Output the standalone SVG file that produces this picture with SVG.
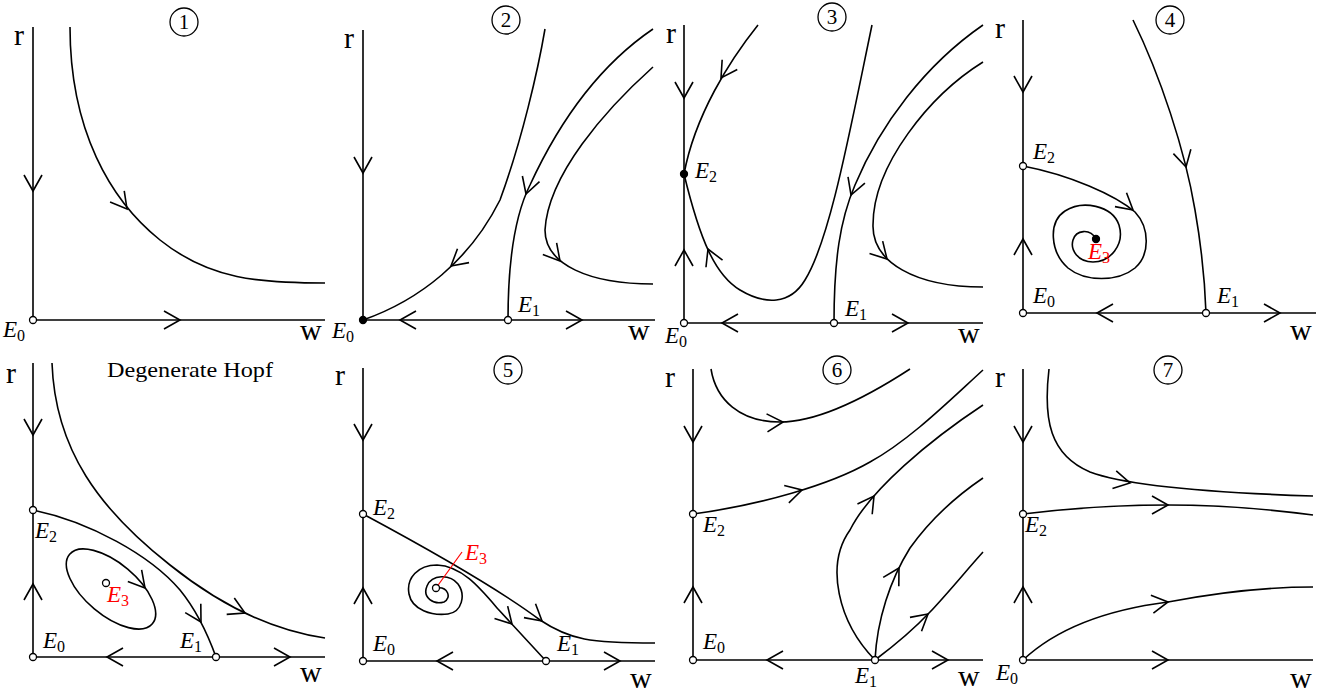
<svg xmlns="http://www.w3.org/2000/svg" xmlns:xlink="http://www.w3.org/1999/xlink" width="1333" height="693" viewBox="0 0 1333 693">
<style>
.ln{fill:none;stroke:#000;stroke-width:1.6}
.ah{fill:none;stroke:#000;stroke-width:1.6}
.pt{fill:#fff;stroke:#000;stroke-width:1.3}
.ptf{fill:#000;stroke:#000;stroke-width:1.3}
.lab{font-family:"Liberation Serif","DejaVu Serif",serif;font-style:italic;font-size:23px;fill:#000}
.sub{font-size:16px;font-style:normal}
.ax{font-family:"Liberation Serif","DejaVu Serif",serif;font-size:30px;fill:#000}
.num{font-family:"Liberation Serif","DejaVu Serif",serif;font-size:21px;text-anchor:middle;fill:#000}
.ttl{font-family:"Liberation Serif","DejaVu Serif",serif;font-size:21px;fill:#000}
.circ{fill:none;stroke:#000;stroke-width:1.3}
.red{fill:#ff0000}
.redln{fill:none;stroke:#ff0000;stroke-width:1.2}
</style>
<defs>
<path id="ah" class="ah" d="M-16,-9 L0,0 L-16,9"/>
</defs>
<rect width="1333" height="693" fill="#fff"/>

<!-- Panel 1 -->
<g id="panel1">
<g id="p1-connectors">
<path class="ln" d="M33,27 V320 H325"/>
<path class="ln" d="M70,27 C70,130 110,200 160,240 C210,280 260,283 325,283"/>
<use xlink:href="#ah" transform="translate(33,191) rotate(90)"/>
<use xlink:href="#ah" transform="translate(180,320) rotate(0)"/>
<use xlink:href="#ah" transform="translate(127,209) rotate(52)"/>
</g>
<g id="p1-E0"><circle class="pt" cx="33" cy="320" r="3.5"/><text class="lab" x="3" y="337">E<tspan class="sub" dy="4">0</tspan></text></g>
<text class="ax" x="14" y="45">r</text>
<text class="ax" x="300" y="340">w</text>
<g id="p1-title"><circle class="circ" cx="184" cy="22" r="14"/><text class="num" x="184" y="29">1</text></g>
</g>

<!-- Panel 2 -->
<g id="panel2">
<g id="p2-connectors">
<path class="ln" d="M363,30 V320 H655"/>
<path class="ln" d="M363,320 C420,300 470,260 500,200 C522,140 538,70 545,29"/>
<path class="ln" d="M508,320 C508,260 515,215 530,185 C560,120 600,65 653,29"/>
<path class="ln" d="M653,67 C605,110 548,175 545,230 C545,265 590,284 653,284"/>
<use xlink:href="#ah" transform="translate(363,173) rotate(90)"/>
<use xlink:href="#ah" transform="translate(400,320) rotate(180)"/>
<use xlink:href="#ah" transform="translate(582,320) rotate(0)"/>
<use xlink:href="#ah" transform="translate(451,266) rotate(140)"/>
<use xlink:href="#ah" transform="translate(526,194) rotate(108)"/>
<use xlink:href="#ah" transform="translate(560,261) rotate(50)"/>
</g>
<g id="p2-E0"><circle class="ptf" cx="363" cy="320" r="3.5"/><text class="lab" x="332" y="338">E<tspan class="sub" dy="4">0</tspan></text></g>
<g id="p2-E1"><circle class="pt" cx="508" cy="320" r="3.5"/><text class="lab" x="518" y="312">E<tspan class="sub" dy="4">1</tspan></text></g>
<text class="ax" x="344" y="48">r</text>
<text class="ax" x="628" y="340">w</text>
<g id="p2-title"><circle class="circ" cx="506" cy="20" r="14"/><text class="num" x="506" y="27">2</text></g>
</g>

<!-- Panel 3 -->
<g id="panel3">
<g id="p3-connectors">
<path class="ln" d="M684,25 V323 H983"/>
<path class="ln" d="M758,25 C730,60 695,115 684,174"/>
<path class="ln" d="M684,174 C700,240 715,275 740,290 C765,305 790,305 805,280 C830,240 850,130 872,25"/>
<path class="ln" d="M834,323 C834,260 840,220 855,185 C880,125 925,65 983,25"/>
<path class="ln" d="M983,62 C930,95 873,165 873,225 C872,262 915,287 983,287"/>
<use xlink:href="#ah" transform="translate(684,98) rotate(90)"/>
<use xlink:href="#ah" transform="translate(684,250) rotate(-90)"/>
<use xlink:href="#ah" transform="translate(722,323) rotate(180)"/>
<use xlink:href="#ah" transform="translate(908,323) rotate(0)"/>
<use xlink:href="#ah" transform="translate(721,78) rotate(123)"/>
<use xlink:href="#ah" transform="translate(708,249) rotate(-113)"/>
<use xlink:href="#ah" transform="translate(851,195) rotate(110)"/>
<use xlink:href="#ah" transform="translate(887,259) rotate(47)"/>
</g>
<g id="p3-E0"><circle class="pt" cx="684" cy="323" r="3.5"/><text class="lab" x="665" y="343">E<tspan class="sub" dy="4">0</tspan></text></g>
<g id="p3-E1"><circle class="pt" cx="834" cy="323" r="3.5"/><text class="lab" x="845" y="316">E<tspan class="sub" dy="4">1</tspan></text></g>
<g id="p3-E2"><circle class="ptf" cx="684" cy="174" r="3.5"/><text class="lab" x="695" y="178">E<tspan class="sub" dy="4">2</tspan></text></g>
<text class="ax" x="666" y="43">r</text>
<text class="ax" x="958" y="343">w</text>
<g id="p3-title"><circle class="circ" cx="832" cy="17" r="14"/><text class="num" x="832" y="24">3</text></g>
</g>

<!-- Panel 4 -->
<g id="panel4">
<g id="p4-connectors">
<path class="ln" d="M1023,20 V313 H1316"/>
<path class="ln" d="M1133,20 C1160,75 1185,150 1195,210 C1202,250 1205,285 1206,313"/>
<path class="ln" d="M1023,166 C1070,175 1115,195 1135,212 C1150,228 1150,255 1135,268 C1118,282 1085,282 1068,268 C1050,252 1048,222 1065,211 C1082,200 1112,205 1119,225 C1125,245 1110,262 1093,262 C1078,262 1070,250 1073,240 C1076,230 1090,228 1096,239"/>
<use xlink:href="#ah" transform="translate(1023,92) rotate(90)"/>
<use xlink:href="#ah" transform="translate(1023,239) rotate(-90)"/>
<use xlink:href="#ah" transform="translate(1097,313) rotate(180)"/>
<use xlink:href="#ah" transform="translate(1280,313) rotate(0)"/>
<use xlink:href="#ah" transform="translate(1186,167) rotate(76)"/>
<use xlink:href="#ah" transform="translate(1133,210) rotate(40)"/>
</g>
<g id="p4-E0"><circle class="pt" cx="1023" cy="313" r="3.5"/><text class="lab" x="1033" y="303">E<tspan class="sub" dy="4">0</tspan></text></g>
<g id="p4-E1"><circle class="pt" cx="1206" cy="313" r="3.5"/><text class="lab" x="1217" y="303">E<tspan class="sub" dy="4">1</tspan></text></g>
<g id="p4-E2"><circle class="pt" cx="1023" cy="166" r="3.5"/><text class="lab" x="1033" y="159">E<tspan class="sub" dy="4">2</tspan></text></g>
<g id="p4-E3"><circle class="ptf" cx="1096" cy="239" r="3.5"/><text class="lab red" x="1088" y="259">E<tspan class="sub" dy="4">3</tspan></text></g>
<text class="ax" x="995" y="38">r</text>
<text class="ax" x="1290" y="340">w</text>
<g id="p4-title"><circle class="circ" cx="1170" cy="20" r="14"/><text class="num" x="1170" y="27">4</text></g>
</g>

<!-- Panel 5: Degenerate Hopf -->
<g id="panel5">
<g id="p5-connectors">
<path class="ln" d="M33,363 V657 H325"/>
<path class="ln" d="M52,363 C55,450 100,510 170,565 C220,605 270,630 325,638"/>
<path class="ln" d="M33,510 C90,522 150,555 180,590 C198,612 208,635 216,657"/>
<ellipse class="ln" cx="111" cy="589" rx="54" ry="26" transform="rotate(40 111 589)"/>
<use xlink:href="#ah" transform="translate(33,435) rotate(90)"/>
<use xlink:href="#ah" transform="translate(33,584) rotate(-90)"/>
<use xlink:href="#ah" transform="translate(107,657) rotate(180)"/>
<use xlink:href="#ah" transform="translate(290,657) rotate(0)"/>
<use xlink:href="#ah" transform="translate(245,613) rotate(25)"/>
<use xlink:href="#ah" transform="translate(201,622) rotate(60)"/>
<use xlink:href="#ah" transform="translate(145,588) rotate(50)"/>
</g>
<g id="p5-E0"><circle class="pt" cx="33" cy="657" r="3.5"/><text class="lab" x="43" y="648">E<tspan class="sub" dy="4">0</tspan></text></g>
<g id="p5-E1"><circle class="pt" cx="216" cy="657" r="3.5"/><text class="lab" x="180" y="648">E<tspan class="sub" dy="4">1</tspan></text></g>
<g id="p5-E2"><circle class="pt" cx="33" cy="510" r="3.5"/><text class="lab" x="35" y="538">E<tspan class="sub" dy="4">2</tspan></text></g>
<g id="p5-E3"><circle class="pt" cx="106" cy="583" r="3.5"/><text class="lab red" x="107" y="602">E<tspan class="sub" dy="4">3</tspan></text></g>
<text class="ax" x="6" y="383">r</text>
<text class="ax" x="300" y="682">w</text>
<text class="ttl" x="107" y="377" textLength="166" lengthAdjust="spacingAndGlyphs">Degenerate Hopf</text>
</g>

<!-- Panel 6 (5) -->
<g id="panel6">
<g id="p6-connectors">
<path class="ln" d="M363,368 V661 H655"/>
<path class="ln" d="M363,514 C430,550 500,590 540,620 C570,640 590,643 655,643"/>
<path class="ln" d="M546,661 L498,609 C480,588 462,566 437,565 C418,565 406,578 409,594 C412,610 432,616 448,614 C462,612 466,595 458,584 C450,574 432,574 427,586 C422,598 434,605 444,602 C452,598 448,586 436,588"/>
<path class="redln" d="M436,588 L462,552"/>
<use xlink:href="#ah" transform="translate(363,440) rotate(90)"/>
<use xlink:href="#ah" transform="translate(363,588) rotate(-90)"/>
<use xlink:href="#ah" transform="translate(437,661) rotate(180)"/>
<use xlink:href="#ah" transform="translate(620,661) rotate(0)"/>
<use xlink:href="#ah" transform="translate(542,621) rotate(40)"/>
<use xlink:href="#ah" transform="translate(512,624) rotate(47)"/>
</g>
<g id="p6-E0"><circle class="pt" cx="363" cy="661" r="3.5"/><text class="lab" x="373" y="651">E<tspan class="sub" dy="4">0</tspan></text></g>
<g id="p6-E1"><circle class="pt" cx="546" cy="661" r="3.5"/><text class="lab" x="557" y="651">E<tspan class="sub" dy="4">1</tspan></text></g>
<g id="p6-E2"><circle class="pt" cx="363" cy="514" r="3.5"/><text class="lab" x="373" y="515">E<tspan class="sub" dy="4">2</tspan></text></g>
<g id="p6-E3"><circle class="pt" cx="436" cy="588" r="3.5"/><text class="lab red" x="465" y="560">E<tspan class="sub" dy="4">3</tspan></text></g>
<text class="ax" x="335" y="385">r</text>
<text class="ax" x="630" y="688">w</text>
<g id="p6-title"><circle class="circ" cx="508" cy="370" r="14"/><text class="num" x="508" y="377">5</text></g>
</g>

<!-- Panel 7 (6) -->
<g id="panel7">
<g id="p7-connectors">
<path class="ln" d="M693,369 V660 H983"/>
<path class="ln" d="M711,369 C716,400 740,422 780,422 C820,422 870,395 910,369"/>
<path class="ln" d="M693,514 C760,505 830,485 870,462 C910,440 950,400 983,370"/>
<path class="ln" d="M875,660 C838,622 825,565 850,530 C870,490 930,440 983,405"/>
<path class="ln" d="M875,660 C877,620 890,580 910,548 C930,520 955,497 983,478"/>
<path class="ln" d="M875,660 C895,645 915,628 930,612 C948,593 965,572 983,552"/>
<use xlink:href="#ah" transform="translate(693,442) rotate(90)"/>
<use xlink:href="#ah" transform="translate(693,587) rotate(-90)"/>
<use xlink:href="#ah" transform="translate(767,660) rotate(180)"/>
<use xlink:href="#ah" transform="translate(948,660) rotate(0)"/>
<use xlink:href="#ah" transform="translate(783,422) rotate(-3)"/>
<use xlink:href="#ah" transform="translate(802,490) rotate(-15)"/>
<use xlink:href="#ah" transform="translate(874,496) rotate(-55)"/>
<use xlink:href="#ah" transform="translate(899,568) rotate(-60)"/>
<use xlink:href="#ah" transform="translate(928,614) rotate(-40)"/>
</g>
<g id="p7-E0"><circle class="pt" cx="693" cy="660" r="3.5"/><text class="lab" x="703" y="649">E<tspan class="sub" dy="4">0</tspan></text></g>
<g id="p7-E1"><circle class="pt" cx="875" cy="660" r="3.5"/><text class="lab" x="855" y="683">E<tspan class="sub" dy="4">1</tspan></text></g>
<g id="p7-E2"><circle class="pt" cx="693" cy="514" r="3.5"/><text class="lab" x="703" y="532">E<tspan class="sub" dy="4">2</tspan></text></g>
<text class="ax" x="665" y="387">r</text>
<text class="ax" x="958" y="686">w</text>
<g id="p7-title"><circle class="circ" cx="837" cy="370" r="14"/><text class="num" x="837" y="377">6</text></g>
</g>

<!-- Panel 8 (7) -->
<g id="panel8">
<g id="p8-connectors">
<path class="ln" d="M1023,369 V660 H1313"/>
<path class="ln" d="M1049,369 C1043,420 1050,455 1090,472 C1130,487 1220,493 1313,496"/>
<path class="ln" d="M1023,514 C1080,507 1130,505 1168,505 C1210,505 1260,508 1313,515"/>
<path class="ln" d="M1023,660 C1055,630 1105,610 1168,602 C1220,592 1270,587 1313,587"/>
<use xlink:href="#ah" transform="translate(1023,442) rotate(90)"/>
<use xlink:href="#ah" transform="translate(1023,587) rotate(-90)"/>
<use xlink:href="#ah" transform="translate(1168,660) rotate(0)"/>
<use xlink:href="#ah" transform="translate(1130,483) rotate(12)"/>
<use xlink:href="#ah" transform="translate(1168,505) rotate(0)"/>
<use xlink:href="#ah" transform="translate(1168,602) rotate(-8)"/>
</g>
<g id="p8-E0"><circle class="pt" cx="1023" cy="660" r="3.5"/><text class="lab" x="996" y="680">E<tspan class="sub" dy="4">0</tspan></text></g>
<g id="p8-E2"><circle class="pt" cx="1023" cy="514" r="3.5"/><text class="lab" x="1025" y="532">E<tspan class="sub" dy="4">2</tspan></text></g>
<text class="ax" x="995" y="387">r</text>
<text class="ax" x="1290" y="688">w</text>
<g id="p8-title"><circle class="circ" cx="1168" cy="370" r="14"/><text class="num" x="1168" y="377">7</text></g>
</g>
</svg>
